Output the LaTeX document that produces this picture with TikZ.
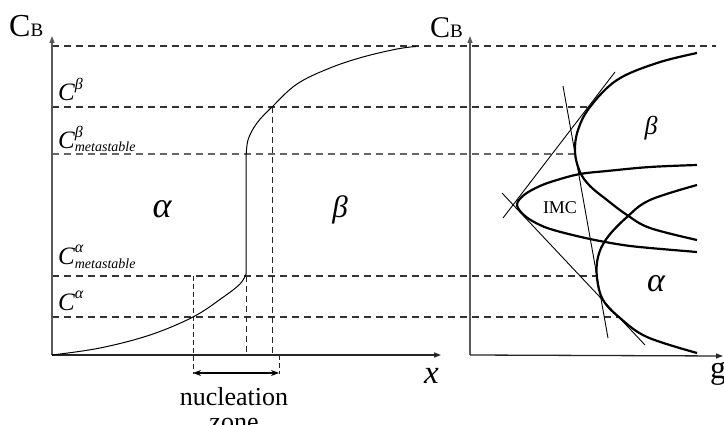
\documentclass[tikz,border=0pt]{standalone}
\usepackage{fontspec}
\setmainfont{Liberation Serif}
\usetikzlibrary{arrows.meta}
\newcommand{\fs}[1]{\fontsize{#1}{#1}\selectfont}
\begin{document}
\begin{tikzpicture}[x=1pt,y=-1pt,
  axisline/.style={draw=black!65, line width=1.3pt},
  axisarrow/.style={-{Triangle[length=7pt,width=5pt]}},
  guide/.style={draw=black!80, line width=1.2pt, dash pattern=on 7pt off 5pt},
  vguide/.style={draw=black!85, line width=1pt, dash pattern=on 6pt off 4pt},
  thinguide/.style={draw=black!85, line width=0.8pt, dash pattern=on 5pt off 3pt},
  phase/.style={draw=black, line width=2.2pt},
  tangent/.style={draw=black, line width=0.9pt},
  lbl/.style={inner sep=0pt, anchor=base west}]
\useasboundingbox (0,0) rectangle (724,425);
\fill[white] (0,0) rectangle (724,425);

% coordinates
\coordinate (O1) at (52,355);
\coordinate (Y1) at (52,36);
\coordinate (X1) at (441,355);
\coordinate (O2) at (470,355);
\coordinate (Y2) at (470,36);
\coordinate (X2) at (723,356);

% horizontal dashed guides
\coordinate (h0a) at (52,46);   \coordinate (h0b) at (716,46);
\coordinate (h1a) at (52,107);  \coordinate (h1b) at (588,107);
\coordinate (h2a) at (52,154);  \coordinate (h2b) at (575,154);
\coordinate (h3a) at (52,276);  \coordinate (h3b) at (597,276);
\coordinate (h4a) at (52,317);  \coordinate (h4b) at (620,317);
\draw[guide] (h0a) -- (h0b);
\draw[guide] (h1a) -- (h1b);
\draw[guide, draw=black!60] (h2a) -- (h2b);
\draw[guide] (h3a) -- (h3b);
\draw[guide] (h4a) -- (h4b);

% vertical dashed guides
\coordinate (v1a) at (193,276); \coordinate (v1b) at (193,374);
\coordinate (v2a) at (246,276); \coordinate (v2b) at (246,355);
\coordinate (v3a) at (272,107); \coordinate (v3b) at (272,355);
\coordinate (v4a) at (279,355); \coordinate (v4b) at (279,374);
\draw[thinguide] (v1a) -- (v1b);
\draw[vguide] (v2a) -- (v2b);
\draw[vguide] (v3a) -- (v3b);
\draw[thinguide] (v4a) -- (v4b);

% axes
\draw[axisline, axisarrow] (O1) -- (Y1);
\draw[axisline, draw=black!85, axisarrow] (O1) -- (X1);
\draw[axisline, axisarrow] (O2) -- (Y2);
\draw[axisline, draw=black!85, axisarrow] (O2) -- (X2);

% concentration profile
\draw[black, line width=1pt] plot[smooth, tension=0.6] coordinates
  {(52,355) (100,348) (150,335) (193,317) (222,298) (240,284) (246,274)}
  -- (246,160)
  plot[smooth, tension=0.6] coordinates
  {(246,160) (248,140) (257,123) (272,107) (297,84) (330,68) (363,57) (397,49) (416,46.5)};

% nucleation zone arrow
\coordinate (nz1) at (193,373);
\coordinate (nz2) at (279,373);
\draw[line width=1.1pt, {Stealth[length=8pt,width=6pt]}-{Stealth[length=8pt,width=6pt]}] (nz1) -- (nz2);
\node[inner sep=0pt, anchor=base, font=\fs{26}] (nucl) at (234,405) {nucleation};
\node[inner sep=0pt, anchor=base, font=\fs{26}] (zone) at (234,430) {zone};

% left labels
\node[lbl] (cb1) at (9,37) {\fs{32}C\fs{19}B};
\node[lbl] (cbeta) at (58,101) {\fs{25}\itshape C\raisebox{11pt}{\fs{16}β}};
\node[lbl] (cbetam) at (58,149) {\fs{25}\itshape C\rlap{\raisebox{11pt}{\fs{16}β}}\raisebox{-3pt}{\fs{14}metastable}};
\node[lbl] (calpham) at (58,265) {\fs{25}\itshape C\rlap{\raisebox{12pt}{\fs{16}α}}\raisebox{-4pt}{\fs{14}metastable}};
\node[lbl] (calpha) at (58,310) {\fs{25}\itshape C\raisebox{12pt}{\fs{16}α}};
\node[inner sep=0pt, font=\fs{36}\itshape] (alpha1) at (162,209) {α};
\node[inner sep=0pt, font=\fs{31}\itshape] (beta1) at (340,210) {β};
\node[lbl, font=\fs{33}\itshape] (xlab) at (424,383) {x};

% right labels
\node[lbl] (cb2) at (430,38) {\fs{30}C\fs{19}B};
\node[lbl, font=\fs{32}] (glab) at (710,378) {g};
\node[inner sep=0pt, font=\fs{26}\itshape] (beta2) at (651,128) {β};
\node[inner sep=0pt, font=\fs{34}\itshape] (alpha2) at (656,284) {α};
\node[inner sep=0pt, font=\fs{18}] (imc) at (560,208) {IMC};

% free-energy curves
\draw[phase] plot[smooth, tension=0.6] coordinates
  {(697,53) (657,63) (617,80) (590,107) (578,130) (575,152) (580,172) (590,186) (607,200) (627,215) (650,228) (697,240)};
\draw[phase] plot[smooth, tension=0.6] coordinates
  {(697,165) (650,167) (607,171) (580,174) (557,180) (540,186) (524,195) (517,205) (525,216) (540,225) (557,231) (590,239) (623,245) (650,248) (697,252)};
\draw[phase] plot[smooth, tension=0.6] coordinates
  {(697,185) (650,200) (627,217) (607,238) (598,257) (597,278) (603,300) (620,318) (647,337) (697,353)};

% common tangents
\coordinate (ta1) at (615,72);  \coordinate (ta2) at (503,218);
\coordinate (tb1) at (502,193); \coordinate (tb2) at (645,345);
\coordinate (tc1) at (563,86);  \coordinate (tc2) at (608,338);
\draw[tangent] (ta1) -- (ta2);
\draw[tangent] (tb1) -- (tb2);
\draw[tangent] (tc1) -- (tc2);
\end{tikzpicture}
\end{document}
